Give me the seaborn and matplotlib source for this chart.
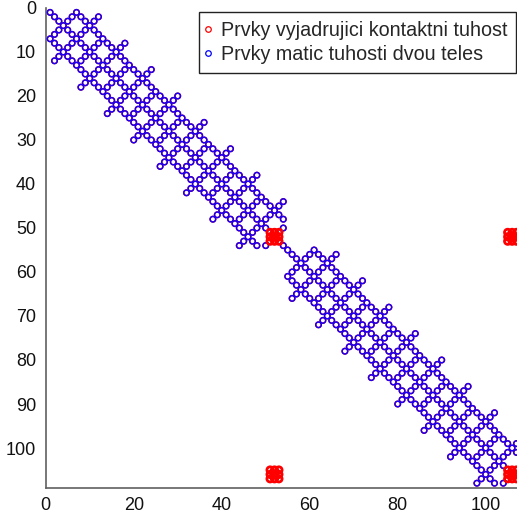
#!/usr/bin/env python3
"""Spy plot of the assembled stiffness matrix of two bodies in contact."""

import matplotlib

matplotlib.use("Agg")
import matplotlib.pyplot as plt
import pandas as pd
import seaborn as sns

N_BODY = 54
N_TOTAL = 2 * N_BODY

# Nonzeros of one body's stiffness matrix.
# Lines parallel to the main diagonal: (col - row offset, first row, last row)
DIAG_OFFSETS = [0, 6, -6]
DIAG_FIRST = [1, 1, 7]
DIAG_LAST = [54, 48, 54]
# Anti-diagonal runs (row + col = const) and how far they reach from the diagonal
ANTI_SUMS = [2, 8, 14, 20, 26, 32, 38, 44, 50, 56, 62, 68, 74, 80, 86, 92, 98, 104]
ANTI_REACH = [0, 6, 10, 6, 10, 6, 10, 6, 10, 6, 10, 6, 10, 6, 10, 6, 10, 6]

# contact coupling dofs (local index inside each body)
CONTACT_DOFS = [51, 52, 53]

LABEL_CONTACT = "Prvky vyjadrujici kontaktni tuhost"
LABEL_BODIES = "Prvky matic tuhosti dvou teles"


def body_entries() -> pd.DataFrame:
    cells = set()
    for off, first, last in zip(DIAG_OFFSETS, DIAG_FIRST, DIAG_LAST):
        for r in range(first, last + 1):
            cells.add((r, r + off))
    for total, reach in zip(ANTI_SUMS, ANTI_REACH):
        for r in range(1, N_BODY + 1):
            c = total - r
            if 1 <= c <= N_BODY and abs(c - r) <= reach:
                cells.add((r, c))
    one = pd.DataFrame(sorted(cells), columns=["row", "col"])
    two = one + N_BODY
    return pd.concat([one, two], ignore_index=True)


def contact_entries() -> pd.DataFrame:
    dofs = CONTACT_DOFS + [d + N_BODY for d in CONTACT_DOFS]
    return pd.DataFrame([(r, c) for r in dofs for c in dofs], columns=["row", "col"])


def main() -> None:
    bodies = body_entries()
    contact = contact_entries()
    full = pd.concat([bodies, contact]).drop_duplicates()

    sns.set_style("white")
    plt.rcParams["font.family"] = ["Liberation Sans", "DejaVu Sans"]

    fig = plt.figure(figsize=(5.17, 5.18), dpi=100)
    ax = fig.add_axes([45.7 / 517, 30.4 / 518, 479.6 / 517, 479.6 / 518])

    ring = dict(marker="o", facecolor="none", legend=False)
    # red layer = whole assembled matrix, blue = the two bodies, contact block drawn last
    sns.scatterplot(data=full, x="col", y="row", ax=ax, edgecolor="#ff0000",
                    s=16, linewidth=1.0, zorder=2, **ring)
    sns.scatterplot(data=bodies, x="col", y="row", ax=ax, edgecolor="#1a00f0",
                    s=16, linewidth=1.1, zorder=3, **ring)
    sns.scatterplot(data=contact, x="col", y="row", ax=ax, edgecolor="#ff0000",
                    s=22, linewidth=1.9, zorder=4, **ring)

    ax.set_xlim(0, N_TOTAL + 1)
    ax.set_ylim(N_TOTAL + 1, 0)
    ax.set_xticks(range(0, 101, 20))
    ax.set_yticks(range(0, 101, 10))
    ax.set_xlabel("")
    ax.set_ylabel("")
    for side in ("top", "right"):
        ax.spines[side].set_visible(False)
    for side in ("left", "bottom"):
        ax.spines[side].set_color("#606060")
        ax.spines[side].set_linewidth(1.2)
    ax.tick_params(direction="in", length=4, width=1, color="#606060",
                   labelsize=13, pad=7, labelcolor="#111111")

    handles = [
        plt.Line2D([], [], ls="", marker="o", ms=4, mfc="none", mec="#ff0000", mew=0.9),
        plt.Line2D([], [], ls="", marker="o", ms=4, mfc="none", mec="#0000ff", mew=0.9),
    ]
    fig.legend(handles, [LABEL_CONTACT, LABEL_BODIES], loc="upper left",
               bbox_to_anchor=(199 / 517, 1 - 12 / 518), fontsize=14.2, frameon=True,
               fancybox=False, edgecolor="#222222", framealpha=1, borderpad=0.45,
               handletextpad=0.62, handlelength=0.05, labelspacing=0.25, borderaxespad=0)

    fig.savefig("out.png", dpi=100)


if __name__ == "__main__":
    main()
